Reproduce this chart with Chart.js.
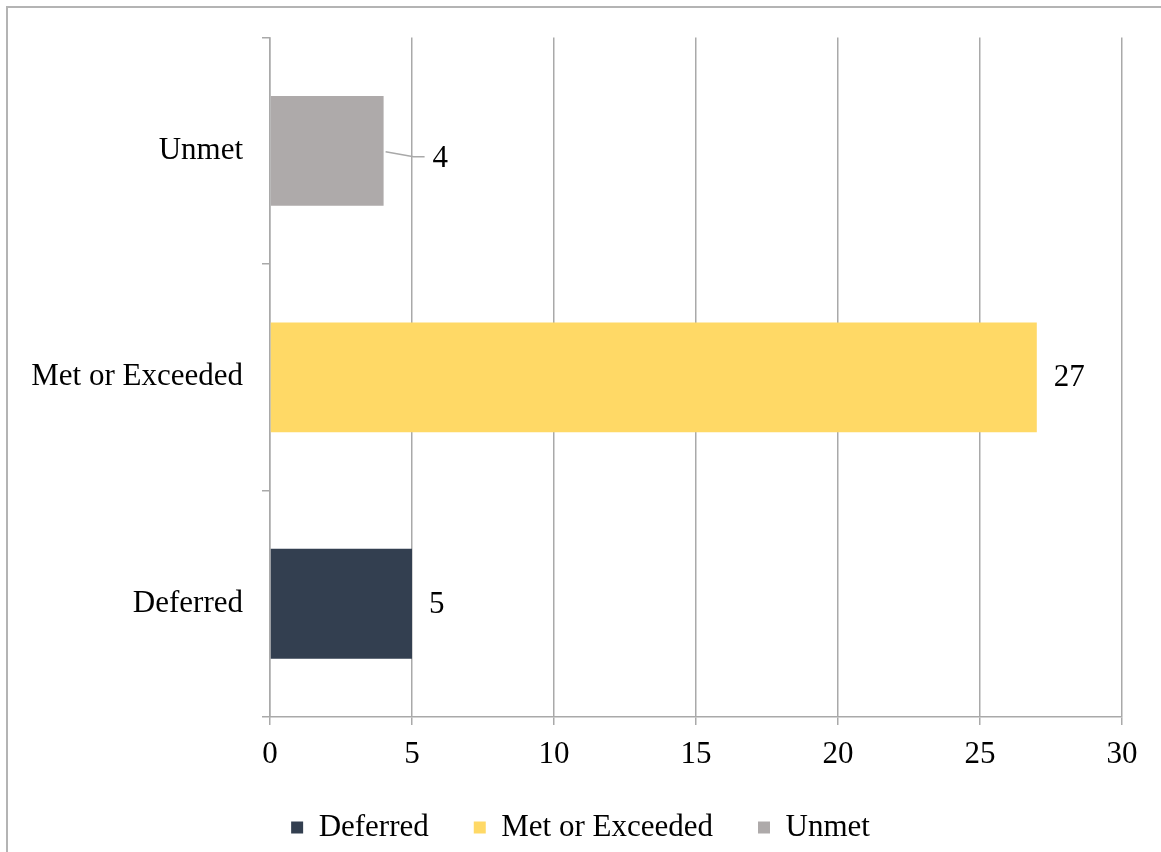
<!DOCTYPE html>
<html>
<head>
<meta charset="utf-8">
<title>Status</title>
<script src="https://cdn.jsdelivr.net/npm/chart.js@4"></script>
<style>
    html, body { margin: 0; padding: 0; background: #fff; overflow: hidden; }
    #frame {
        position: absolute; left: 6px; top: 6px; width: 1400px; height: 1000px;
        border-top: 2px solid #b4b4b4; border-left: 2px solid #b4b4b4;
    }
    #wrap { position: absolute; left: 0; top: 0; width: 1161px; height: 852px; }
</style>
</head>
<body>
<div id="frame"></div>
<div id="wrap"><canvas id="chart"></canvas></div>
<script>
// data
const categories = ['Deferred', 'Met or Exceeded', 'Unmet'];
const values = [5, 27, 4];
const colors = ['#333f50', '#ffd966', '#aeaaaa'];
const xTicks = [0, 5, 10, 15, 20, 25, 30];

const gridColor = '#a9a9a9';
const serif = 'Liberation Serif';

// one dataset per category so the legend lists each one
const datasets = categories.map(function(name, i) {
    return {
        label: name,
        data: categories.map(function(c, j) { return j === i ? values[i] : null; }),
        backgroundColor: colors[i],
        borderWidth: 0,
        barPercentage: 0.97,
        categoryPercentage: 0.5
    };
});

// value labels next to the bars, the small one pushed out with a leader line
const valueLabels = {
    id: 'valueLabels',
    afterDatasetsDraw(chart) {
        const ctx = chart.ctx;
        ctx.save();
        ctx.font = '31px "' + serif + '"';
        ctx.fillStyle = '#000';
        ctx.textBaseline = 'middle';
        ctx.textAlign = 'left';
        chart.data.datasets.forEach(function(ds, i) {
            const meta = chart.getDatasetMeta(i);
            meta.data.forEach(function(bar, j) {
                const v = ds.data[j];
                if (v == null) return;
                if (categories[j] === 'Unmet') {
                    ctx.strokeStyle = gridColor;
                    ctx.lineWidth = 1.5;
                    ctx.beginPath();
                    ctx.moveTo(bar.x + 2, bar.y + 1);
                    ctx.lineTo(bar.x + 30, bar.y + 6);
                    ctx.lineTo(bar.x + 41, bar.y + 6);
                    ctx.stroke();
                    ctx.fillText(String(v), bar.x + 49, bar.y + 8);
                } else {
                    ctx.fillText(String(v), bar.x + 17, bar.y + 1);
                }
            });
        });
        ctx.restore();
    }
};

new Chart(document.getElementById('chart'), {
    type: 'bar',
    data: {
        labels: categories,
        datasets: datasets
    },
    options: {
        indexAxis: 'y',
        responsive: true,
        maintainAspectRatio: false,
        animation: false,
        layout: {
            padding: { top: 37, right: 0, left: 0, bottom: 0 }
        },
        scales: {
            x: {
                stacked: true,
                min: 0,
                max: 30,
                afterBuildTicks: function(scale) {
                    scale.ticks = xTicks.map(function(v) { return { value: v }; });
                },
                afterFit: function(scale) {
                    scale.height = 50;
                    scale.paddingRight = 39;   // keeps the plot off the right edge
                },
                grid: {
                    color: gridColor,
                    lineWidth: 1.5,
                    drawTicks: true,
                    tickLength: 8
                },
                border: { display: true, color: gridColor, width: 1.5 },
                ticks: {
                    padding: 11,
                    color: '#000',
                    font: { family: serif, size: 31 }
                }
            },
            y: {
                stacked: true,
                reverse: true,
                afterFit: function(scale) { scale.width = 270; },
                grid: {
                    color: gridColor,
                    lineWidth: 1.5,
                    drawOnChartArea: false,
                    drawTicks: true,
                    tickLength: 8
                },
                border: { display: true, color: gridColor, width: 1.5 },
                ticks: {
                    padding: 19,
                    color: '#000',
                    font: { family: serif, size: 31 }
                }
            }
        },
        plugins: {
            legend: {
                position: 'bottom',
                maxHeight: 85,
                labels: {
                    boxWidth: 12,
                    boxHeight: 12,
                    padding: 45,
                    color: '#000',
                    font: { family: serif, size: 31 }
                }
            },
            tooltip: { enabled: false }
        }
    },
    plugins: [valueLabels]
});
</script>
</body>
</html>
